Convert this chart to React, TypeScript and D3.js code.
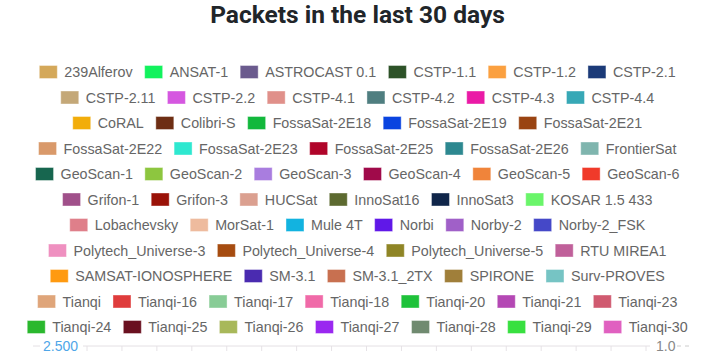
import { useMemo } from "react";
import * as d3 from "d3";

const TITLE = "Packets in the last 30 days";

const satellites = [
  "239Alferov", "ANSAT-1", "ASTROCAST 0.1", "CSTP-1.1", "CSTP-1.2", "CSTP-2.1",
  "CSTP-2.11", "CSTP-2.2", "CSTP-4.1", "CSTP-4.2", "CSTP-4.3", "CSTP-4.4",
  "CoRAL", "Colibri-S", "FossaSat-2E18", "FossaSat-2E19", "FossaSat-2E21",
  "FossaSat-2E22", "FossaSat-2E23", "FossaSat-2E25", "FossaSat-2E26", "FrontierSat",
  "GeoScan-1", "GeoScan-2", "GeoScan-3", "GeoScan-4", "GeoScan-5", "GeoScan-6",
  "Grifon-1", "Grifon-3", "HUCSat", "InnoSat16", "InnoSat3", "KOSAR 1.5 433",
  "Lobachevsky", "MorSat-1", "Mule 4T", "Norbi", "Norby-2", "Norby-2_FSK",
  "Polytech_Universe-3", "Polytech_Universe-4", "Polytech_Universe-5", "RTU MIREA1",
  "SAMSAT-IONOSPHERE", "SM-3.1", "SM-3.1_2TX", "SPIRONE", "Surv-PROVES",
  "Tianqi", "Tianqi-16", "Tianqi-17", "Tianqi-18", "Tianqi-20", "Tianqi-21", "Tianqi-23",
  "Tianqi-24", "Tianqi-25", "Tianqi-26", "Tianqi-27", "Tianqi-28", "Tianqi-29", "Tianqi-30",
];

const colors = [
  "#d4a85a", "#12f25d", "#6b5b8e", "#2d5228", "#fba040", "#1b3a78",
  "#c4a878", "#d557e0", "#e0908a", "#4f7e80", "#ea1aa6", "#37a8b6",
  "#f2ad0a", "#6e2e14", "#12b83c", "#0a44e0", "#9a4412",
  "#d9996a", "#2ee8d0", "#b0052a", "#2d8890", "#7fb5ae",
  "#17664f", "#8dc63f", "#a97ddf", "#a00a4a", "#f0843a", "#f03a2a",
  "#a0508a", "#9a1208", "#dba090", "#5d6a30", "#10264a", "#6af56a",
  "#df7f8a", "#eebb9e", "#12b3e0", "#6018e8", "#a060c8", "#4548c8",
  "#ef90c0", "#a64c10", "#8f8526", "#c0609a",
  "#ff9a10", "#4a2bb0", "#c87050", "#a07f3a", "#76c4c4",
  "#dfa57a", "#df3c3c", "#88cc96", "#f06aa8", "#1ec23a", "#b448b4", "#d05a70",
  "#2ab82e", "#6a1020", "#a8b85a", "#9a28f0", "#708a70", "#38e040", "#e060c0",
];

// how many legend items end up on each wrapped line
const legendRowSizes = [6, 6, 5, 5, 6, 6, 6, 4, 5, 7, 7];

const xTickLabels = [
  "01", "03", "05", "07", "09", "11", "13", "15", "17",
  "19", "21", "23", "25", "27", "29", "31", "02",
];
const leftDomain = [0, 2500];
const rightDomain = [0, 1];

const W = 709;
const H = 351;
const LEGEND_SIZE = 14.3;
const LEGEND_FAMILY = "'Liberation Sans', Arial, sans-serif";

export default function App() {
  const chartTop = 346;
  const chartBottom = 700;
  const chartLeft = 87;
  const chartRight = 650;

  const measure = useMemo(() => {
    const ctx = document.createElement("canvas").getContext("2d")!;
    ctx.font = `${LEGEND_SIZE}px ${LEGEND_FAMILY}`;
    return (s: string) => ctx.measureText(s).width;
  }, []);

  const legend = useMemo(() => {
    const BOX_W = 18;
    const BOX_H = 13;
    const GAP = 7;
    const PAD = 12;
    const ROW_H = 25.5;
    const out: { x: number; y: number; name: string; color: string; boxW: number; boxH: number; gap: number }[] = [];
    let idx = 0;
    legendRowSizes.forEach((n, r) => {
      const items = satellites.slice(idx, idx + n).map((name, k) => ({ name, color: colors[idx + k] }));
      idx += n;
      const widths = items.map((d) => BOX_W + GAP + measure(d.name));
      const total = d3.sum(widths) + PAD * (items.length - 1);
      let x = W / 2 + 3 - total / 2;
      const y = 72 + r * ROW_H;
      items.forEach((d, k) => {
        out.push({ x, y, name: d.name, color: d.color, boxW: BOX_W, boxH: BOX_H, gap: GAP });
        x += widths[k] + PAD;
      });
    });
    return out;
  }, [measure]);

  const xScale = d3.scalePoint().domain(xTickLabels).range([chartLeft, chartRight - 4]);
  const yLeft = d3.scaleLinear().domain(leftDomain).range([chartBottom, chartTop]);
  const yRight = d3.scaleLinear().domain(rightDomain).range([chartBottom, chartTop]);
  // only the top of the plot fits in the window
  const leftTicks = yLeft.ticks(5).filter((v) => yLeft(v) < H);
  const rightTicks = yRight.ticks(5).filter((v) => yRight(v) < H);

  return (
    <svg width={W} height={H} style={{ position: "absolute", left: 0, top: 0, display: "block" }}>
      <text x={W / 2 + 3} y={23} textAnchor="middle" fontFamily="Roboto, sans-serif" fontWeight={700} fontSize={24.5} fill="#212529">
        {TITLE}
      </text>

      {legend.map((d, i) => (
        <g key={i}>
          <rect x={d.x} y={d.y - d.boxH / 2} width={d.boxW} height={d.boxH} fill={d.color} stroke="#ffffff" strokeOpacity={0.4} strokeWidth={1} />
          <text x={d.x + d.boxW + d.gap} y={d.y} dy="0.36em" fontFamily={LEGEND_FAMILY} fontSize={LEGEND_SIZE} fill="#666">
            {d.name}
          </text>
        </g>
      ))}

      {/* vertical grid */}
      {xTickLabels.map((t, i) => (
        <line key={i} x1={xScale(t)} x2={xScale(t)} y1={chartTop} y2={chartBottom} stroke="#e6e2e6" strokeWidth={1} />
      ))}

      {/* left axis grid + ticks */}
      {leftTicks.map((v, i) => (
        <g key={i}>
          <line x1={chartLeft - 4} x2={chartRight} y1={yLeft(v)} y2={yLeft(v)} stroke="#e4e0e4" strokeWidth={1} />
          <line x1={33} x2={40} y1={yLeft(v)} y2={yLeft(v)} stroke="#e4e0e4" strokeWidth={1} />
          <text x={78} y={yLeft(v)} dy="0.36em" textAnchor="end" fontFamily={LEGEND_FAMILY} fontSize={14} fill="#4fa6e8">
            {d3.format(",")(v)}
          </text>
        </g>
      ))}

      {/* right axis ticks */}
      {rightTicks.map((v, i) => (
        <g key={i}>
          <text x={656} y={yRight(v)} dy="0.36em" fontFamily={LEGEND_FAMILY} fontSize={14} fill="#888">
            {d3.format(".1f")(v)}
          </text>
          <line x1={677} x2={692} y1={yRight(v)} y2={yRight(v)} stroke="#ccc" strokeDasharray="4,4" strokeWidth={1} />
        </g>
      ))}
    </svg>
  );
}
